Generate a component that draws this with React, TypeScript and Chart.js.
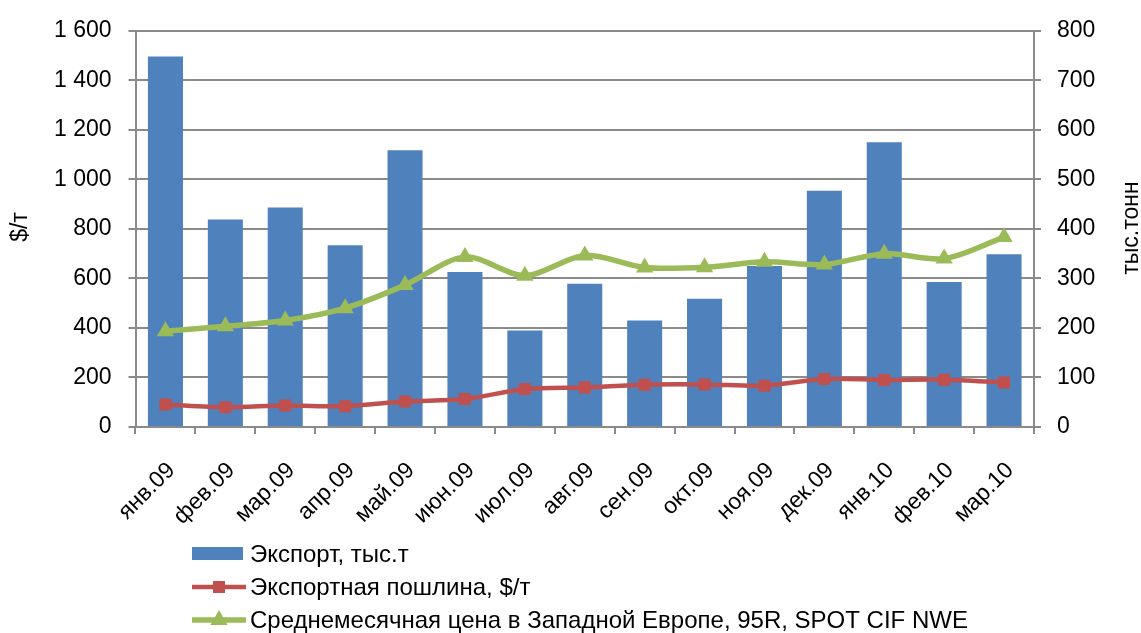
import React, { useEffect, useRef } from "react";
import { Chart, registerables } from "chart.js";

Chart.register(...registerables);

const categories = ["янв.09", "фев.09", "мар.09", "апр.09", "май.09", "июн.09", "июл.09", "авг.09", "сен.09", "окт.09", "ноя.09", "дек.09", "янв.10", "фев.10", "мар.10"];
const exportVolume = [748, 419, 443, 367, 559, 313, 195, 289, 215, 259, 325, 477, 575, 293, 349];
const exportDuty = [91, 80, 87, 84, 103, 113, 153, 160, 171, 172, 167, 194, 190, 191, 180];
const avgPrice = [387, 407, 430, 480, 573, 687, 611, 693, 644, 645, 667, 656, 700, 680, 767];

const seriesNames = ["Экспорт, тыс.т", "Экспортная пошлина, $/т", "Среднемесячная цена в Западной Европе, 95R, SPOT CIF NWE"];
const leftTitle = "$/т";
const rightTitle = "тыс.тонн";

const BLUE = "#4F81BD";
const RED = "#C0504D";
const GREEN = "#9BBB59";
const GRID = "#8a8a8a";
const FONT = "'Liberation Sans', Arial, sans-serif";
const FS = 23;
const LEGEND_FS = 24;

const fmt = (v: number) => {
  if (v >= 1000) return `${Math.floor(v / 1000)} ${String(v % 1000).padStart(3, "0")}`;
  return String(v);
};

const decorPlugin = {
  id: "decor",
  afterDraw(chart: any) {
    const ctx = chart.ctx as CanvasRenderingContext2D;
    ctx.save();
    ctx.fillStyle = "#000";
    ctx.font = `${FS}px ${FONT}`;
    ctx.textBaseline = "middle";
    ctx.textAlign = "center";
    // axis titles
    ctx.save();
    ctx.translate(21, 227);
    ctx.rotate(-Math.PI / 2);
    ctx.fillText(leftTitle, 0, 0);
    ctx.restore();
    ctx.save();
    ctx.translate(1132, 228);
    ctx.rotate(-Math.PI / 2);
    ctx.fillText(rightTitle, 0, 0);
    ctx.restore();

    // legend
    const x0 = 192;
    const x1 = 246;
    const tx = 250;
    const rows = [554, 587, 620];
    ctx.textAlign = "left";
    ctx.fillStyle = BLUE;
    ctx.fillRect(x0, rows[0] - 7, x1 - x0 - 3, 13);
    ctx.strokeStyle = RED;
    ctx.lineWidth = 4.5;
    ctx.beginPath();
    ctx.moveTo(x0, rows[1]);
    ctx.lineTo(x1, rows[1]);
    ctx.stroke();
    ctx.fillStyle = RED;
    ctx.fillRect((x0 + x1) / 2 - 6, rows[1] - 6, 12, 12);
    ctx.strokeStyle = GREEN;
    ctx.lineWidth = 5.5;
    ctx.beginPath();
    ctx.moveTo(x0, rows[2]);
    ctx.lineTo(x1, rows[2]);
    ctx.stroke();
    ctx.fillStyle = GREEN;
    const cx = (x0 + x1) / 2;
    const r = 10;
    ctx.beginPath();
    ctx.moveTo(cx, rows[2] - r);
    ctx.lineTo(cx + r * 0.866, rows[2] + r * 0.5);
    ctx.lineTo(cx - r * 0.866, rows[2] + r * 0.5);
    ctx.closePath();
    ctx.fill();

    ctx.fillStyle = "#000";
    ctx.font = `${LEGEND_FS}px ${FONT}`;
    seriesNames.forEach((n, i) => ctx.fillText(n, tx, rows[i] + 1));
    ctx.restore();
  },
};

export default function App() {
  const ref = useRef<HTMLCanvasElement | null>(null);
  useEffect(() => {
    document.body.style.margin = "0";
    if (!ref.current) return;
    Chart.defaults.font.family = FONT;
    Chart.defaults.font.size = FS;
    Chart.defaults.color = "#000";
    const chart = new Chart(ref.current, {
      type: "bar",
      data: {
        labels: categories,
        datasets: [
          {
            type: "line",
            label: seriesNames[2],
            data: avgPrice,
            yAxisID: "y",
            borderColor: GREEN,
            backgroundColor: GREEN,
            borderWidth: 5.5,
            tension: 0.3,
            pointStyle: "triangle",
            pointRadius: 10,
            pointBorderWidth: 0,
            order: 1,
          },
          {
            type: "line",
            label: seriesNames[1],
            data: exportDuty,
            yAxisID: "y",
            borderColor: RED,
            backgroundColor: RED,
            borderWidth: 4.5,
            tension: 0.3,
            pointStyle: "rect",
            pointRadius: 8.5,
            pointBorderWidth: 0,
            order: 2,
          },
          {
            type: "bar",
            label: seriesNames[0],
            data: exportVolume,
            yAxisID: "y1",
            backgroundColor: BLUE,
            borderWidth: 0,
            barPercentage: 0.585,
            categoryPercentage: 1,
            order: 3,
          },
        ] as any,
      },
      options: {
        animation: false,
        responsive: false,
        devicePixelRatio: 1,
        layout: { padding: { top: 26.5, left: 0, right: 0, bottom: 0 } },
        plugins: { legend: { display: false }, tooltip: { enabled: false } },
        scales: {
          x: {
            offset: true,
            afterFit: (s: any) => {
              s.height = 206;
            },
            grid: { display: true, drawOnChartArea: false, drawTicks: true, tickLength: 7, color: GRID, lineWidth: 2, offset: true },
            border: { display: true, color: GRID, width: 2 },
            ticks: { minRotation: 45, maxRotation: 45, autoSkip: false, padding: 23, labelOffset: 6, font: { size: FS } },
          },
          y: {
            position: "left",
            min: 0,
            max: 1600,
            afterFit: (s: any) => {
              s.width = 135.5;
            },
            grid: { color: GRID, lineWidth: 2, tickLength: 7 },
            border: { display: true, color: GRID, width: 2 },
            ticks: { stepSize: 200, padding: 17, callback: (v: any) => fmt(Number(v)), font: { size: FS } },
          },
          y1: {
            position: "right",
            min: 0,
            max: 800,
            afterFit: (s: any) => {
              s.width = 107;
            },
            grid: { drawOnChartArea: false, color: GRID, lineWidth: 2, tickLength: 7 },
            border: { display: true, color: GRID, width: 2 },
            ticks: { stepSize: 100, padding: 16, font: { size: FS } },
          },
        },
      },
      plugins: [decorPlugin],
    });
    return () => chart.destroy();
  }, []);
  return (
    <div style={{ width: 1141, height: 633, background: "#fff" }}>
      <canvas ref={ref} width={1141} height={633} style={{ display: "block" }} />
    </div>
  );
}
